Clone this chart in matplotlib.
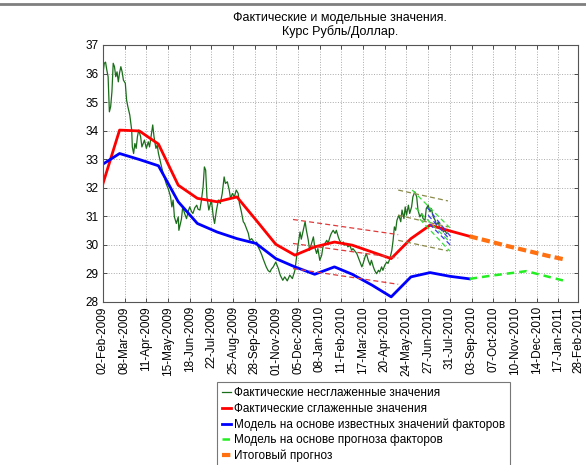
import numpy as np
import matplotlib
matplotlib.use('Agg')
import matplotlib.pyplot as plt
from matplotlib.lines import Line2D

plt.rcParams['font.family'] = ['Liberation Sans', 'DejaVu Sans']
plt.rcParams['font.size'] = 8.5

start = np.datetime64('2009-02-02')

# actual unsmoothed values: day offset from 02-Feb-2009, rate
raw_days = [0, 2, 4, 6, 8, 10, 12, 14, 16, 18, 20, 22, 24, 26, 28, 30, 32, 35, 37, 39,
            42, 45, 46, 48, 50, 52, 54, 56, 59, 61, 63, 65, 68, 71, 73, 76, 78, 80, 83, 85,
            87, 90, 93, 96, 99, 103, 106, 108, 110, 112, 115, 118, 119, 123, 125, 128, 131, 134, 136, 139,
            141, 144, 147, 149, 152, 154, 157, 159, 161, 163, 166, 170, 173, 175, 178, 181, 184, 187, 190, 192,
            195, 198, 200, 203, 206, 209, 212, 214, 217, 220, 222, 225, 228, 230, 233, 235, 238, 241, 243, 246,
            249, 251, 254, 256, 259, 262, 264, 267, 271, 275, 278, 282, 285, 289, 293, 297, 301, 303, 306, 309,
            311, 314, 317, 319, 322, 324, 327, 330, 332, 335, 337, 340, 343, 345, 348, 351, 353, 356, 358, 361,
            364, 366, 369, 371, 374, 377, 379, 382, 384, 387, 390, 392, 398, 402, 406, 408, 411, 413, 416, 419,
            421, 424, 426, 429, 432, 434, 437, 439, 442, 445, 447, 450, 453, 455, 457, 459, 461, 464, 467, 469,
            472, 474, 476, 479, 481, 484, 486, 489, 492, 494, 497, 500, 502, 505, 507, 510, 513, 515, 518, 521,
            523, 526, 528, 531, 534, 536, 539]
raw_vals = [36.01, 36.36, 36.40, 36.12, 35.89, 34.66, 34.84, 35.36, 36.36, 36.24, 35.89, 36.06, 35.71, 36.03, 36.24, 36.06, 35.77, 35.66, 35.07, 34.84,
            34.55, 34.02, 33.43, 33.20, 33.55, 33.38, 33.79, 34.02, 33.79, 33.43, 33.55, 33.67, 33.38, 33.61, 33.43, 33.90, 34.20, 33.79, 33.38, 33.49,
            33.20, 32.91, 32.62, 32.38, 32.15, 31.92, 31.68, 31.33, 31.57, 30.98, 30.75, 30.98, 30.51, 30.90, 31.33, 31.10, 30.92, 31.20, 31.33, 31.16,
            31.10, 31.30, 31.39, 31.25, 31.22, 31.50, 32.03, 32.73, 32.62, 31.68, 31.22, 31.57, 30.98, 30.75, 31.22, 31.57, 31.45, 31.80, 32.38, 32.15,
            32.21, 31.92, 31.63, 31.80, 31.68, 31.92, 31.80, 31.45, 31.16, 30.81, 30.75, 30.57, 30.40, 30.16, 30.22, 30.16, 30.05, 30.10, 29.95, 29.81,
            29.65, 29.52, 29.35, 29.23, 29.10, 29.05, 29.15, 29.23, 29.40, 29.17, 28.94, 28.76, 28.88, 28.74, 28.94, 28.82, 29.11, 29.46, 30.00, 30.45,
            30.20, 30.51, 30.81, 30.51, 30.16, 29.81, 30.05, 30.28, 29.93, 29.70, 29.87, 29.46, 29.64, 29.93, 30.05, 30.16, 30.05, 30.28, 30.40, 30.51,
            30.40, 30.51, 30.28, 30.16, 30.05, 30.10, 29.99, 30.05, 29.93, 29.99, 29.81, 29.87, 29.70, 29.46, 29.23, 29.35, 29.58, 29.70, 29.46, 29.29,
            29.46, 29.23, 29.11, 28.99, 29.11, 29.05, 29.23, 29.11, 29.29, 29.40, 29.35, 29.52, 29.81, 30.16, 30.63, 30.51, 30.86, 31.04, 30.81, 31.22,
            30.92, 31.33, 31.04, 31.39, 31.10, 31.33, 31.68, 31.86, 31.68, 31.22, 30.98, 31.10, 30.92, 30.86, 31.27, 31.39, 31.16, 31.27, 30.98, 30.86,
            30.69, 30.81, 30.57, 30.63, 30.45, 30.51, 30.40]

# monthly points of the smoothed series and the model
month_dates = ['2009-02-02', '2009-02-28', '2009-03-31', '2009-04-30', '2009-05-31', '2009-06-30',
               '2009-07-31', '2009-08-31', '2009-09-30', '2009-10-31', '2009-11-30', '2009-12-31',
               '2010-01-31', '2010-02-28', '2010-03-31', '2010-04-30', '2010-05-31', '2010-06-30',
               '2010-07-31', '2010-08-31']
smooth_vals = [32.15, 34.02, 33.99, 33.53, 32.09, 31.63, 31.51, 31.68, 30.87, 30.02, 29.64, 29.93,
               30.10, 29.99, 29.75, 29.52, 30.22, 30.69, 30.49, 30.30]
model_vals = [32.83, 33.20, 32.99, 32.77, 31.51, 30.75, 30.45, 30.22, 30.05, 29.52, 29.23, 28.97,
              29.23, 28.97, 28.59, 28.18, 28.88, 29.03, 28.90, 28.81]

# model on forecast factors
fc_model_dates = ['2010-08-31', '2010-09-30', '2010-10-31', '2010-11-28', '2011-01-27']
fc_model_vals = [28.81, 28.91, 29.00, 29.08, 28.74]

# final forecast
final_dates = ['2010-08-31', '2010-09-30', '2010-10-31', '2010-11-30', '2010-12-31', '2011-01-27']
final_vals = [30.30, 30.13, 29.95, 29.79, 29.62, 29.49]

# trend channels: (date from, value from, date to, value to)
red_channel = [('2009-11-27', 30.89, '2010-05-11', 30.36),
               ('2009-11-27', 30.05, '2010-05-11', 29.54),
               ('2009-11-27', 29.17, '2010-05-11', 28.62)]
olive_channel = [('2010-05-11', 31.92, '2010-07-28', 31.54),
                 ('2010-05-11', 31.04, '2010-07-28', 30.63),
                 ('2010-05-11', 30.16, '2010-07-28', 29.79)]
green_fan = [('2010-06-02', 31.92, '2010-07-31', 30.60),
             ('2010-06-07', 31.30, '2010-07-31', 30.10),
             ('2010-06-14', 30.90, '2010-07-31', 29.78)]
blue_fan = [('2010-06-25', 31.32, '2010-08-01', 30.30),
            ('2010-06-27', 31.04, '2010-08-01', 30.16),
            ('2010-06-29', 30.73, '2010-08-01', 29.99)]

tick_labels = ['02-Feb-2009', '08-Mar-2009', '11-Apr-2009', '15-May-2009', '18-Jun-2009',
               '22-Jul-2009', '25-Aug-2009', '28-Sep-2009', '01-Nov-2009', '05-Dec-2009',
               '08-Jan-2010', '11-Feb-2010', '17-Mar-2010', '20-Apr-2010', '24-May-2010',
               '27-Jun-2010', '31-Jul-2010', '03-Sep-2010', '07-Oct-2010', '10-Nov-2010',
               '14-Dec-2010', '17-Jan-2011', '28-Feb-2011']


def to_dt(lst):
    return np.array(lst, dtype='datetime64[D]')


fig = plt.figure(figsize=(5.86, 4.65), dpi=100)
ax = fig.add_axes([103 / 586, 1 - 302 / 465, 475 / 586, 257 / 465])

ax.plot(start + np.array(raw_days), raw_vals, color='#1a6e1a', lw=0.9,
        label='Фактические несглаженные значения')
ax.plot(to_dt(month_dates), smooth_vals, color='#ff0000', lw=2,
        label='Фактические сглаженные значения')
ax.plot(to_dt(month_dates), model_vals, color='#0000ff', lw=2,
        label='Модель на основе известных значений факторов')
ax.plot(to_dt(fc_model_dates), fc_model_vals, color='#22ee22', lw=1.8, dashes=(3, 2),
        label='Модель на основе прогноза факторов')
ax.plot(to_dt(final_dates), final_vals, color='#ff7011', lw=3, dashes=(2, 1),
        label='Итоговый прогноз')

for lines, col in [(red_channel, '#e03a3a'), (olive_channel, '#8a8a4a'),
                   (green_fan, '#3adc3a'), (blue_fan, '#3a3aee')]:
    for d0, v0, d1, v1 in lines:
        ax.plot(to_dt([d0, d1]), [v0, v1], color=col, lw=0.9, dashes=(4, 2.5))

ax.set_ylim(28, 37)
ax.set_yticks(range(28, 38))
xmin = start
xmax = start + 745
ax.set_xlim(xmin, xmax)
ticks = list(start + np.arange(22) * 34) + [xmax]
ax.set_xticks(ticks)
ax.set_xticklabels(tick_labels, rotation=90)
ax.tick_params(direction='in', length=3, width=0.6, colors='#333333', labelcolor='black',
               top=True, right=True, labelsize=8.5, pad=3)
ax.grid(True, linestyle=':', color='#aaaaaa', lw=0.7)
for s in ax.spines.values():
    s.set_color('#555555')
    s.set_linewidth(0.8)

fig.text(340 / 586, 1 - 18 / 465, 'Фактические и модельные значения.', ha='center', va='center', fontsize=9)
fig.text(340 / 586, 1 - 32 / 465, 'Курс Рубль/Доллар.', ha='center', va='center', fontsize=9)

# line under a cropped header
fig.add_artist(Line2D([0, 1], [1 - 4.5 / 465, 1 - 4.5 / 465], color='#7f7f7f', lw=2))

leg = fig.legend(loc='upper left', bbox_to_anchor=(216.5 / 586, 1 - 382 / 465),
                 frameon=True, fancybox=False, fontsize=8.5, handlelength=0.75,
                 handletextpad=0.25, labelspacing=0.3, borderpad=0.45, borderaxespad=0)
leg.get_frame().set_edgecolor('#555555')
leg.get_frame().set_linewidth(0.8)

fig.savefig('out.png', dpi=100)
